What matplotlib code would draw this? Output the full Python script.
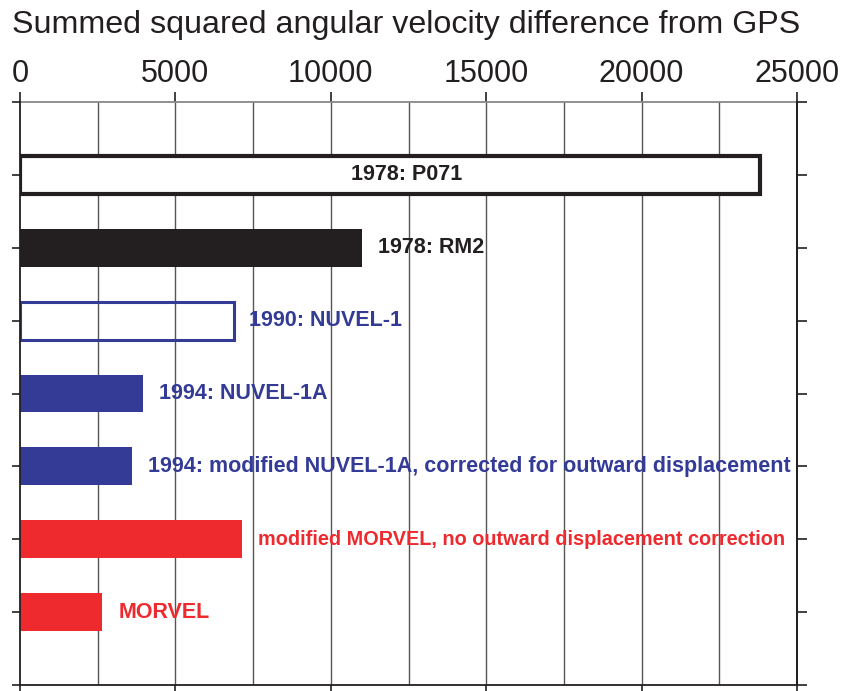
import matplotlib
matplotlib.use("Agg")
import matplotlib.pyplot as plt

# Model comparison: summed squared angular velocity difference from GPS
models = [
    "1978: P071",
    "1978: RM2",
    "1990: NUVEL-1",
    "1994: NUVEL-1A",
    "1994: modified NUVEL-1A, corrected for outward displacement",
    "modified MORVEL, no outward displacement correction",
    "MORVEL",
]
values = [23800, 11000, 6870, 3970, 3610, 7130, 2650]
styles = ["white", "solid", "outline", "solid", "solid", "solid", "solid"]

BLACK = "#231f20"
BLUE = "#333b96"
RED = "#ee2a2e"
colors = [BLACK, BLACK, BLUE, BLUE, BLUE, RED, RED]
label_sizes = [15.5, 15.5, 15.5, 15.5, 15.5, 14.3, 15.5]

x_ticks = [0, 5000, 10000, 15000, 20000, 25000]

plt.rcParams["font.family"] = ["Liberation Sans", "DejaVu Sans"]

fig = plt.figure(figsize=(8.41, 6.91), dpi=100)
W, H = 841, 691
left, right, top, bottom = 20, 797, 102, 685
ax = fig.add_axes([left / W, 1 - bottom / H, (right - left) / W, (bottom - top) / H])

ax.set_xlim(0, 25000)
ax.set_ylim(7, -1)

# vertical grid every 2500
for gx in range(2500, 25000, 2500):
    ax.axvline(gx, color="#555555", lw=1.0, zorder=0)

ypos = list(range(len(models)))
bar_h = 0.52
for y, v, st, c in zip(ypos, values, styles, colors):
    if st == "solid":
        ax.barh(y, v, height=bar_h, color=c, edgecolor="none", zorder=2)
    elif st == "white":
        ax.barh(y, v, height=bar_h, color="white", edgecolor=c, lw=3.0, zorder=2)
    else:
        ax.barh(y, v, height=bar_h, fill=False, edgecolor=c, lw=2.2, zorder=2)

# model labels
for i, (y, v, name, c, fs) in enumerate(zip(ypos, values, models, colors, label_sizes)):
    if i == 0:
        ax.text(12450, y, name, ha="center", va="center", color=c,
                fontsize=fs, fontweight="bold", zorder=3)
    else:
        ax.annotate(name, (v, y), xytext=(11.5, 0), textcoords="offset points",
                    ha="left", va="center", color=c, fontsize=fs,
                    fontweight="bold", zorder=3)

# frame
for side in ("left", "right", "bottom"):
    ax.spines[side].set_color(BLACK)
    ax.spines[side].set_linewidth(1.3)
ax.spines["top"].set_visible(False)

ax.set_xticks(x_ticks)
ax.set_xticklabels([])
ax.tick_params(axis="x", which="major", direction="out", length=4, width=1.2,
               color=BLACK, bottom=True, top=False)
ax.set_yticks(range(-1, 8))
ax.set_yticklabels([])
ax.tick_params(axis="y", direction="out", length=6, width=1.2, color=BLACK,
               left=True, right=False)

# top axis with labels
sec_x = ax.secondary_xaxis("top")
sec_x.set_xticks(x_ticks)
sec_x.set_xticklabels([str(t) for t in x_ticks])
sec_x.tick_params(direction="out", length=7.5, width=1.2, color=BLACK,
                  pad=1.5, labelsize=22, labelcolor=BLACK)
sec_x.spines["top"].set_color("#888888")
sec_x.spines["top"].set_linewidth(1.3)

# right axis ticks
sec_y = ax.secondary_yaxis("right")
sec_y.set_yticks(range(-1, 8))
sec_y.set_yticklabels([])
sec_y.tick_params(direction="out", length=7.5, width=1.2, color=BLACK)
sec_y.spines["right"].set_color(BLACK)
sec_y.spines["right"].set_linewidth(1.3)

# title, sized to span the header width
title = fig.text(12 / W, 1 - 33 / H,
                 "Summed squared angular velocity difference from GPS",
                 ha="left", va="baseline", fontsize=25, color=BLACK)
renderer = fig.canvas.get_renderer()
tw = title.get_window_extent(renderer).width
title.set_fontsize(25 * 791 / tw)

fig.savefig("out.png", dpi=100)
